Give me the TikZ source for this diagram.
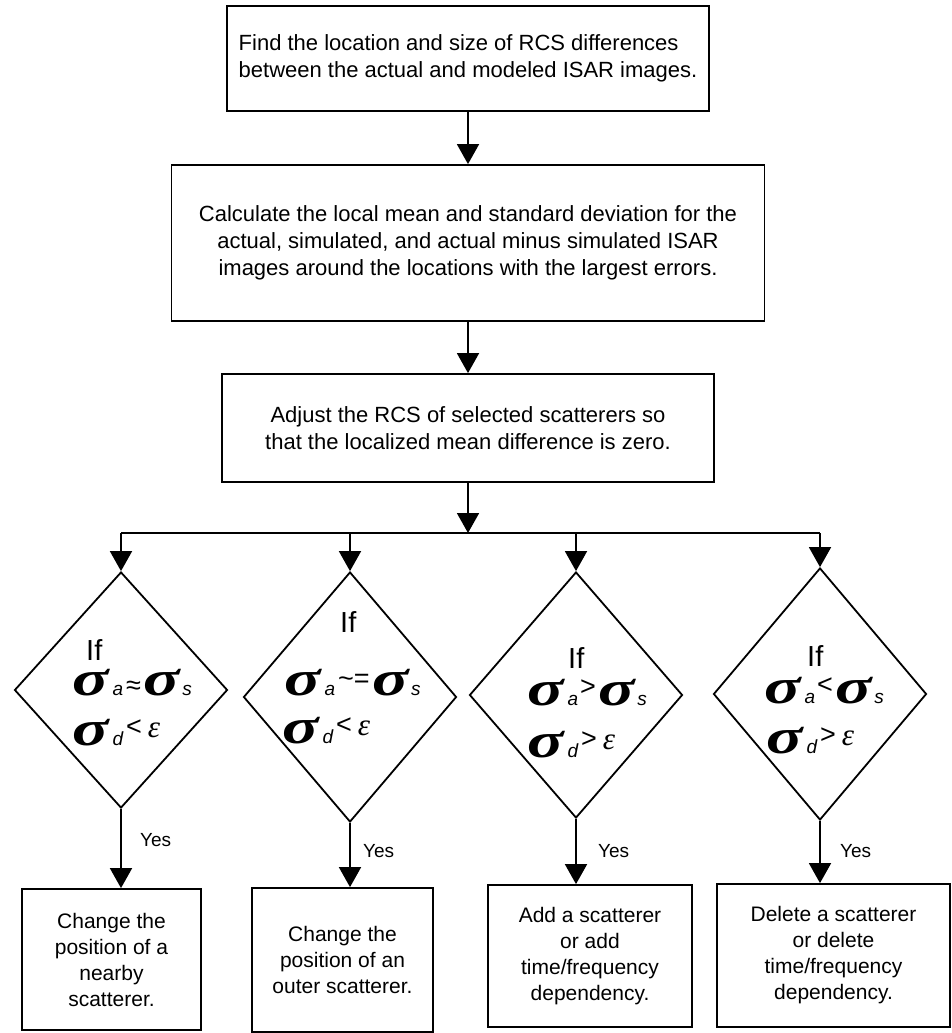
\documentclass[tikz,border=0pt]{standalone}
\usepackage{fontspec}
\usepackage{graphicx}
\setmainfont{Liberation Sans}
\newfontfamily\sigfont{Liberation Serif}
\usetikzlibrary{arrows.meta,shapes.geometric}
\newcommand\Sg{\scalebox{1.35}[1]{\fontsize{50}{50}\sigfont\bfseries\itshape σ}}
\newcommand\Sb[1]{{\fontsize{19}{19}\selectfont\itshape #1}}
\newcommand\Rl[2][0pt]{\raisebox{#1}{\fontsize{27}{27}\selectfont #2}}
\newcommand\Ep{{\fontsize{31}{31}\sigfont\itshape ε}}
\tikzset{
  box/.style={draw, line width=1.8pt, inner sep=0pt, align=center,
    font=\fontsize{22}{27}\selectfont},
  sbox/.style={draw, line width=1.8pt, inner sep=0pt, align=center,
    font=\fontsize{21}{26}\selectfont},
  dia/.style={draw, diamond, line width=1.8pt, inner sep=0pt, minimum width=213pt},
  arr/.style={line width=1.8pt, -{Triangle[width=22pt,length=20pt]}},
  conn/.style={line width=1.8pt},
  yes/.style={font=\fontsize{19}{19}\selectfont, anchor=base west, inner sep=0pt},
  iflab/.style={font=\fontsize{29}{29}\selectfont, anchor=base west, inner sep=0pt},
  cond/.style={anchor=base west, inner sep=0pt, text height=22pt, text depth=0pt},
}
\begin{document}
\begin{tikzpicture}[x=1pt,y=-1pt]
\useasboundingbox (0,0) rectangle (952,1033);
% main boxes
\node[box, align=left, minimum width=482pt, minimum height=105pt] (b1) at (468,58.5)
  {Find the location and size of RCS differences\\between the actual and modeled ISAR images.};
\node[box, minimum width=593pt, minimum height=156pt] (b2) at (468,243)
  {Calculate the local mean and standard deviation for the\\actual, simulated, and actual minus simulated ISAR\\images around the locations with the largest errors.};
\node[box, minimum width=492pt, minimum height=108pt] (b3) at (468,428)
  {Adjust the RCS of selected scatterers so\\that the localized mean difference is zero.};
\coordinate (j) at (468,533);
% diamonds
\node[dia, minimum height=236pt] (d1) at (121,690) {};
\node[dia, minimum height=250pt] (d2) at (350,697) {};
\node[dia, minimum height=246pt] (d3) at (576,695) {};
\node[dia, minimum height=252pt] (d4) at (820,694) {};
% result boxes
\node[sbox, minimum width=179pt, minimum height=141pt] (r1) at (111.5,959.5)
  {Change the\\position of a\\nearby\\scatterer.};
\node[sbox, minimum width=181pt, minimum height=144pt] (r2) at (342.5,960)
  {Change the\\position of an\\outer scatterer.};
\node[sbox, minimum width=204pt, minimum height=142pt] (r3) at (590,956)
  {Add a scatterer\\or add\\time/frequency\\dependency.};
\node[sbox, minimum width=233pt, minimum height=143pt] (r4) at (833.5,955.5)
  {Delete a scatterer\\or delete\\time/frequency\\dependency.};
% connectors
\draw[arr] (b1.south) -- (b2.north);
\draw[arr] (b2.south) -- (b3.north);
\draw[arr] (b3.south) -- (j);
\draw[conn] (d1.north |- j) -- (d4.north |- j);
\draw[arr] (d1.north |- j) -- (d1.north);
\draw[arr] (d2.north |- j) -- (d2.north);
\draw[arr] (d3.north |- j) -- (d3.north);
\draw[arr] (d4.north |- j) -- (d4.north);
\draw[arr] (d1.south) -- (d1.south |- r1.north);
\draw[arr] (d2.south) -- (d2.south |- r2.north);
\draw[arr] (d3.south) -- (d3.south |- r3.north);
\draw[arr] (d4.south) -- (d4.south |- r4.north);
\node[yes] (y1) at (140,846) {Yes};
\node[yes] (y2) at (363,857) {Yes};
\node[yes] (y3) at (598,857) {Yes};
\node[yes] (y4) at (840,857) {Yes};
% diamond texts
\node[iflab] (i1) at (86,660) {If};
\node[cond] (p1) at (72,695) {\Sg\hspace{4pt}\Sb{a}\hspace{3pt}\Rl[1pt]{≈}\hspace{3pt}\Sg\hspace{2pt}\Sb{s}};
\node[cond] (q1) at (72,745) {\Sg\hspace{4pt}\Sb{d}\hspace{3pt}\Rl[10pt]{<}\hspace{6pt}\raisebox{8pt}{\Ep}};
\node[iflab] (i2) at (340,632) {If};
\node[cond] (p2) at (284,695) {\Sg\hspace{4pt}\Sb{a}\hspace{3pt}\Rl[8pt]{\textasciitilde=}\hspace{3pt}\Sg\hspace{2pt}\Sb{s}};
\node[cond] (q2) at (282,743) {\Sg\hspace{4pt}\Sb{d}\hspace{3pt}\Rl[10pt]{<}\hspace{6pt}\raisebox{8pt}{\Ep}};
\node[iflab] (i3) at (568,668) {If};
\node[cond] (p3) at (527,705) {\Sg\hspace{4pt}\Sb{a}\hspace{2pt}\Rl[10pt]{>}\hspace{3pt}\Sg\hspace{2pt}\Sb{s}};
\node[cond] (q3) at (527,757) {\Sg\hspace{4pt}\Sb{d}\hspace{3pt}\Rl[10pt]{>}\hspace{6pt}\raisebox{8pt}{\Ep}};
\node[iflab] (i4) at (807,666) {If};
\node[cond] (p4) at (764,703) {\Sg\hspace{4pt}\Sb{a}\hspace{2pt}\Rl[10pt]{<}\hspace{3pt}\Sg\hspace{2pt}\Sb{s}};
\node[cond] (q4) at (766,753) {\Sg\hspace{4pt}\Sb{d}\hspace{3pt}\Rl[10pt]{>}\hspace{6pt}\raisebox{8pt}{\Ep}};
\end{tikzpicture}
\end{document}
